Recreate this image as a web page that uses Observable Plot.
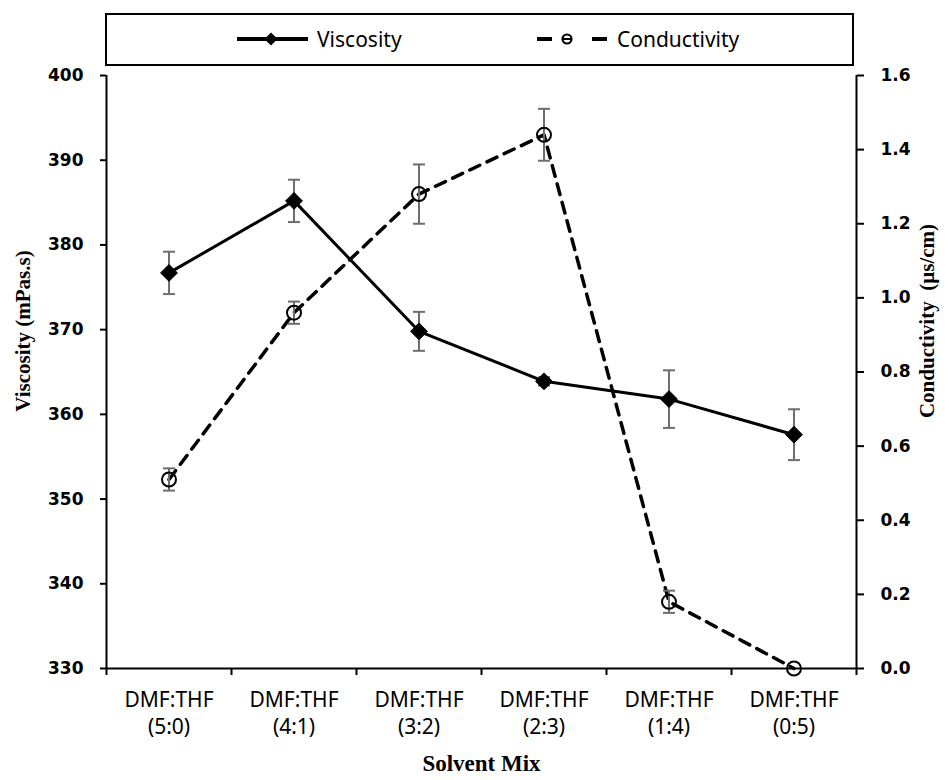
<!DOCTYPE html>
<html>
<head>
<meta charset="utf-8">
<script src="https://cdn.jsdelivr.net/npm/d3@7"></script>
<script src="https://cdn.jsdelivr.net/npm/@observablehq/plot@0.6"></script>
<style>
  body { margin: 0; background: #fff; }
  #wrap { width: 949px; position: relative; }
  #legendRow { position: relative; width: 949px; height: 68px; }
  #legend { position: absolute; left: 105px; top: 13px; width: 749px; height: 53px;
            border: 2px solid #000; box-sizing: border-box; background: #fff; }
  #legend svg { display: block; }
</style>
</head>
<body>
<div id="wrap">
  <div id="legendRow"><div id="legend"></div></div>
  <div id="chart"></div>
</div>
<script>
// ---- data ----
const categories = ["DMF:THF\n(5:0)", "DMF:THF\n(4:1)", "DMF:THF\n(3:2)", "DMF:THF\n(2:3)", "DMF:THF\n(1:4)", "DMF:THF\n(0:5)"];
const viscosity = [376.7, 385.2, 369.8, 363.9, 361.8, 357.6];
const viscosityErr = [2.5, 2.5, 2.3, 0.5, 3.4, 3.0];
const conductivity = [0.51, 0.96, 1.28, 1.44, 0.18, 0.0];
const conductivityErr = [0.03, 0.03, 0.08, 0.07, 0.03, 0];
const viscosityTicks = [330, 340, 350, 360, 370, 380, 390, 400];
const conductivityTicks = [0, 0.2, 0.4, 0.6, 0.8, 1.0, 1.2, 1.4, 1.6];
const seriesNames = ["Viscosity", "Conductivity"];
const leftTitle = "Viscosity (mPas.s)";
const rightTitle = "Conductivity  (µs/cm)";
const xTitle = "Solvent Mix";

// ---- mapping of the secondary axis onto the primary one ----
const vMin = viscosityTicks[0], vMax = viscosityTicks[viscosityTicks.length - 1];
const cMin = conductivityTicks[0], cMax = conductivityTicks[conductivityTicks.length - 1];
const toV = c => vMin + (c - cMin) * (vMax - vMin) / (cMax - cMin);
const toC = v => cMin + (v - vMin) * (cMax - cMin) / (vMax - vMin);

const visc = viscosity.map((v, i) => ({x: i + 0.5, y: v, lo: v - viscosityErr[i], hi: v + viscosityErr[i], e: viscosityErr[i]}));
const cond = conductivity.map((c, i) => ({x: i + 0.5, y: toV(c), lo: toV(c - conductivityErr[i]), hi: toV(c + conductivityErr[i]), e: conductivityErr[i]}));
const condE = cond.filter(d => d.e > 0);

const capSymbol = {
  draw(ctx, size) {
    const w = Math.sqrt(size / Math.PI);
    ctx.moveTo(-w, 0); ctx.lineTo(w, 0);
  }
};

const errGray = "#6e6e6e";
const tickFont = "DejaVu Sans, Verdana, sans-serif";
const labelFont = "Noto Sans, sans-serif";
const titleFont = "Liberation Serif, Times New Roman, serif";

const chart = Plot.plot({
  width: 949, height: 712,
  marginLeft: 106, marginRight: 93, marginTop: 7, marginBottom: 112,
  x: {domain: [0, categories.length]},
  y: {domain: [vMin, vMax]},
  style: {background: "#fff", color: "#000", overflow: "visible"},
  marks: [
    // axes
    Plot.axisY({anchor: "left", ticks: viscosityTicks, tickSize: 6, tickPadding: 17, strokeWidth: 2,
      fontFamily: tickFont, fontSize: 17, fontWeight: "bold", label: null}),
    Plot.axisY({anchor: "right", ticks: conductivityTicks.map(toV), tickSize: 7, tickPadding: 17, strokeWidth: 2,
      tickFormat: v => toC(v).toFixed(1),
      fontFamily: tickFont, fontSize: 17, fontWeight: "bold", label: null}),
    Plot.axisX({ticks: d3.range(0, categories.length + 1), tickSize: 7, strokeWidth: 2, tickFormat: () => "", label: null}),
    Plot.axisX({ticks: categories.map((c, i) => i + 0.5), tickSize: 0, tickPadding: 19,
      tickFormat: v => categories[Math.floor(v)], lineHeight: 1.3,
      fontFamily: labelFont, fontSize: 21, label: null}),
    Plot.ruleX([0, categories.length], {stroke: "#000", strokeWidth: 2}),
    Plot.ruleY([vMin], {stroke: "#000", strokeWidth: 2}),
    // titles
    Plot.text([leftTitle], {frameAnchor: "left", textAnchor: "middle", dx: -83, dy: -41, rotate: -90,
      fontFamily: titleFont, fontSize: 21, fontWeight: "bold", fill: "#000"}),
    Plot.text([rightTitle], {frameAnchor: "right", textAnchor: "middle", dx: 71, dy: -51, rotate: -90,
      fontFamily: titleFont, fontSize: 21, fontWeight: "bold", fill: "#000"}),
    Plot.text([xTitle], {frameAnchor: "bottom", lineAnchor: "middle", dy: 95,
      fontFamily: titleFont, fontSize: 23, fontWeight: "bold", fill: "#000"}),
    // lines
    Plot.line(visc, {x: "x", y: "y", stroke: "#000", strokeWidth: 3}),
    Plot.line(cond, {x: "x", y: "y", stroke: "#000", strokeWidth: 3.5, strokeDasharray: "11,8"}),
    // error bars
    Plot.ruleX(visc, {x: "x", y1: "lo", y2: "hi", stroke: errGray, strokeWidth: 2}),
    Plot.dot(visc, {x: "x", y: "lo", symbol: capSymbol, r: 6, stroke: errGray, strokeWidth: 2}),
    Plot.dot(visc, {x: "x", y: "hi", symbol: capSymbol, r: 6, stroke: errGray, strokeWidth: 2}),
    Plot.ruleX(condE, {x: "x", y1: "lo", y2: "hi", stroke: errGray, strokeWidth: 2}),
    Plot.dot(condE, {x: "x", y: "lo", symbol: capSymbol, r: 6, stroke: errGray, strokeWidth: 2}),
    Plot.dot(condE, {x: "x", y: "hi", symbol: capSymbol, r: 6, stroke: errGray, strokeWidth: 2}),
    // markers
    Plot.dot(visc, {x: "x", y: "y", symbol: "diamond2", r: 7.6, fill: "#000", stroke: "#000", strokeWidth: 1}),
    Plot.dot(cond, {x: "x", y: "y", symbol: "circle", r: 7, fill: "none", stroke: "#000", strokeWidth: 2})
  ]
});
document.getElementById("chart").appendChild(chart);

// ---- legend ----
const lg = d3.select("#legend").append("svg").attr("width", 745).attr("height", 49);
lg.append("line").attr("x1", 130).attr("x2", 201).attr("y1", 24).attr("y2", 24).attr("stroke", "#000").attr("stroke-width", 4);
lg.append("path").attr("d", d3.symbol(d3.symbolDiamond2, 110)()).attr("transform", "translate(164,24)").attr("fill", "#000");
lg.append("text").attr("x", 210).attr("y", 32).text(seriesNames[0])
  .attr("font-family", labelFont).attr("font-size", 21).attr("fill", "#000");
lg.append("line").attr("x1", 430).attr("x2", 445).attr("y1", 24).attr("y2", 24).attr("stroke", "#000").attr("stroke-width", 4);
lg.append("circle").attr("cx", 460).attr("cy", 24).attr("r", 4.5).attr("fill", "none").attr("stroke", "#000").attr("stroke-width", 2.2);
lg.append("line").attr("x1", 455.5).attr("x2", 464.5).attr("y1", 24).attr("y2", 24).attr("stroke", "#000").attr("stroke-width", 2);
lg.append("line").attr("x1", 485).attr("x2", 500).attr("y1", 24).attr("y2", 24).attr("stroke", "#000").attr("stroke-width", 4);
lg.append("text").attr("x", 510).attr("y", 32).text(seriesNames[1])
  .attr("font-family", labelFont).attr("font-size", 21).attr("fill", "#000");
</script>
</body>
</html>
